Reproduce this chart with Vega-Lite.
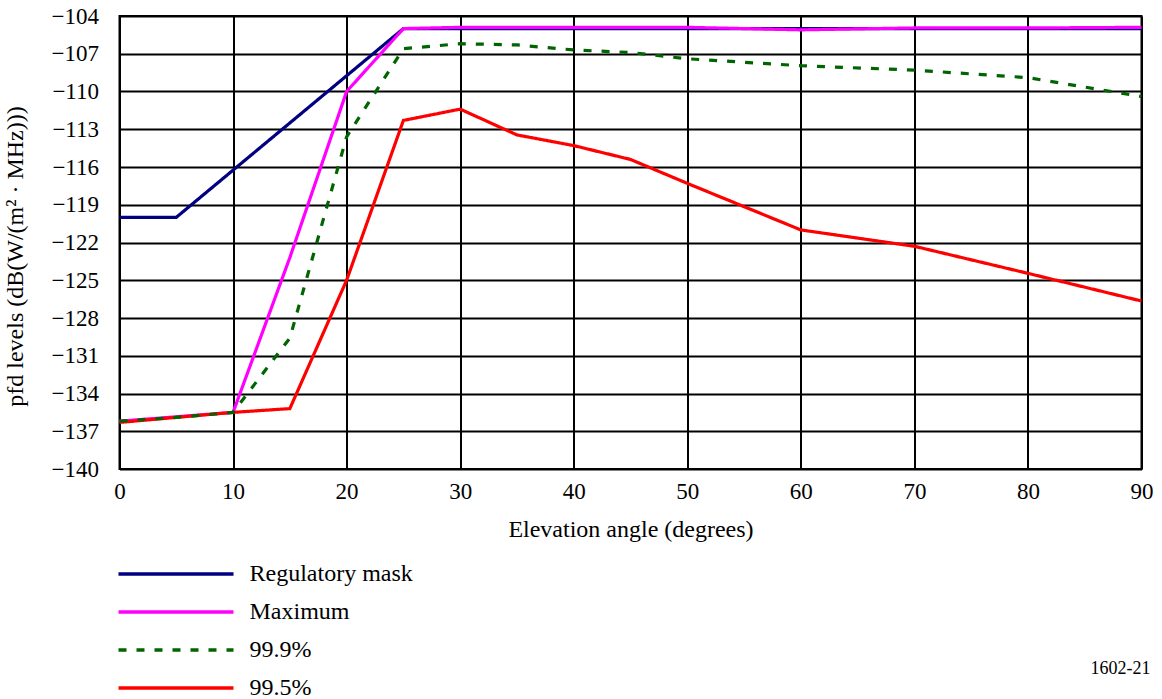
{
  "$schema": "https://vega.github.io/schema/vega-lite/v6.json",
  "width": 1022,
  "height": 453,
  "autosize": {"type": "none"},
  "padding": {"left": 119.5, "top": 16, "right": 20.5, "bottom": 230},
  "background": "white",
  "title": {"text": "1602-21", "orient": "bottom", "anchor": "end", "frame": "group", "fontSize": 18, "fontWeight": "normal", "font": "Liberation Serif", "color": "black", "offset": 0, "dx": 9, "dy": -40},
  "config": {
    "font": "Liberation Serif",
    "view": {"stroke": "black", "strokeWidth": 2},
    "axis": {
      "domain": false,
      "ticks": false,
      "tickSize": 0,
      "grid": true,
      "gridColor": "black",
      "gridWidth": 2,
      "gridOpacity": 1,
      "labelColor": "black",
      "titleColor": "black",
      "labelFont": "Liberation Serif",
      "titleFont": "Liberation Serif",
      "labelFontSize": 23,
      "titleFontSize": 24,
      "titleFontWeight": "normal",
      "labelFlush": false,
      "labelOverlap": false
    }
  },
  "data": {
    "values": [
      {"series": "Regulatory mask", "angle": 0, "pfd": -120},
      {"series": "Regulatory mask", "angle": 5, "pfd": -120},
      {"series": "Regulatory mask", "angle": 25, "pfd": -105},
      {"series": "Regulatory mask", "angle": 90, "pfd": -105},
      {"series": "Maximum", "angle": 0, "pfd": -136.2},
      {"series": "Maximum", "angle": 10, "pfd": -135.5},
      {"series": "Maximum", "angle": 15, "pfd": -123.2},
      {"series": "Maximum", "angle": 20, "pfd": -110},
      {"series": "Maximum", "angle": 25, "pfd": -105},
      {"series": "Maximum", "angle": 30, "pfd": -104.9},
      {"series": "Maximum", "angle": 40, "pfd": -104.9},
      {"series": "Maximum", "angle": 50, "pfd": -104.9},
      {"series": "Maximum", "angle": 60, "pfd": -105.1},
      {"series": "Maximum", "angle": 70, "pfd": -104.95},
      {"series": "Maximum", "angle": 80, "pfd": -104.95},
      {"series": "Maximum", "angle": 90, "pfd": -104.9},
      {"series": "99.5%", "angle": 0, "pfd": -136.3},
      {"series": "99.5%", "angle": 10, "pfd": -135.5},
      {"series": "99.5%", "angle": 15, "pfd": -135.2},
      {"series": "99.5%", "angle": 20, "pfd": -125},
      {"series": "99.5%", "angle": 25, "pfd": -112.3},
      {"series": "99.5%", "angle": 30, "pfd": -111.4},
      {"series": "99.5%", "angle": 35, "pfd": -113.45},
      {"series": "99.5%", "angle": 40, "pfd": -114.3},
      {"series": "99.5%", "angle": 45, "pfd": -115.4},
      {"series": "99.5%", "angle": 50, "pfd": -117.3},
      {"series": "99.5%", "angle": 60, "pfd": -121},
      {"series": "99.5%", "angle": 70, "pfd": -122.3},
      {"series": "99.5%", "angle": 80, "pfd": -124.45},
      {"series": "99.5%", "angle": 90, "pfd": -126.65},
      {"series": "99.9%", "angle": 0, "pfd": -136.2},
      {"series": "99.9%", "angle": 5, "pfd": -135.9},
      {"series": "99.9%", "angle": 10, "pfd": -135.5},
      {"series": "99.9%", "angle": 15, "pfd": -129.6},
      {"series": "99.9%", "angle": 20, "pfd": -113.6},
      {"series": "99.9%", "angle": 25, "pfd": -106.6},
      {"series": "99.9%", "angle": 30, "pfd": -106.2},
      {"series": "99.9%", "angle": 35, "pfd": -106.3},
      {"series": "99.9%", "angle": 40, "pfd": -106.7},
      {"series": "99.9%", "angle": 45, "pfd": -106.9},
      {"series": "99.9%", "angle": 50, "pfd": -107.4},
      {"series": "99.9%", "angle": 60, "pfd": -107.95},
      {"series": "99.9%", "angle": 70, "pfd": -108.3},
      {"series": "99.9%", "angle": 80, "pfd": -108.9},
      {"series": "99.9%", "angle": 90, "pfd": -110.4}
    ]
  },
  "mark": {"type": "line", "strokeWidth": 3.2},
  "encoding": {
    "x": {
      "field": "angle",
      "type": "quantitative",
      "scale": {"domain": [0, 90], "nice": false},
      "axis": {"values": [0, 10, 20, 30, 40, 50, 60, 70, 80, 90], "title": "Elevation angle (degrees)", "labelFont": "Liberation Serif", "labelPadding": 11, "titlePadding": 14}
    },
    "y": {
      "field": "pfd",
      "type": "quantitative",
      "scale": {"domain": [-140, -104], "nice": false, "zero": false},
      "axis": {"values": [-140, -137, -134, -131, -128, -125, -122, -119, -116, -113, -110, -107, -104], "title": "pfd levels (dB(W/(m² · MHz)))", "labelFont": "Liberation Serif", "labelPadding": 21, "titlePadding": 24, "titleY": 240}
    },
    "color": {
      "field": "series",
      "type": "nominal",
      "scale": {"domain": ["Regulatory mask", "Maximum", "99.9%", "99.5%"], "range": ["#000080", "#FF00FF", "#006400", "#FF0000"]},
      "legend": {"orient": "none", "legendX": -3, "legendY": 546, "title": null, "symbolType": "stroke", "symbolSize": 13225, "symbolStrokeWidth": 3.5, "labelFontSize": 24, "labelFont": "Liberation Serif", "labelColor": "black", "labelOffset": 14, "clipHeight": 24, "rowPadding": 14, "padding": 0, "direction": "vertical", "labelLimit": 400}
    },
    "strokeDash": {
      "field": "series",
      "type": "nominal",
      "scale": {"domain": ["Regulatory mask", "Maximum", "99.9%", "99.5%"], "range": [[1, 0], [1, 0], [8, 10], [1, 0]]},
      "legend": {"orient": "none", "legendX": -3, "legendY": 546, "title": null, "symbolType": "stroke", "symbolSize": 13225, "symbolStrokeWidth": 3.5, "labelFontSize": 24, "labelFont": "Liberation Serif", "labelColor": "black", "labelOffset": 14, "clipHeight": 24, "rowPadding": 14, "padding": 0, "direction": "vertical", "labelLimit": 400}
    }
  }
}
